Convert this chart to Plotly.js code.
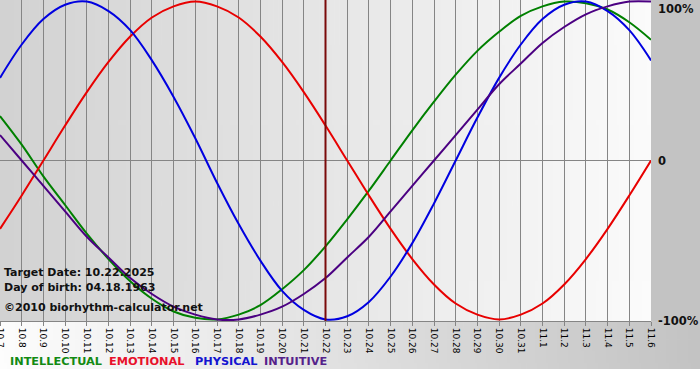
<!DOCTYPE html>
<html>
<head>
<meta charset="utf-8">
<script src="https://cdn.plot.ly/plotly-3.0.1.min.js"></script>
<style>html,body{margin:0;padding:0;background:#fff;}#chart{width:700px;height:380px;}</style>
</head>
<body>
<div id="chart"></div>
<script>
// Days shown on the x axis
const dates = ['10.7','10.8','10.9','10.10','10.11','10.12','10.13','10.14','10.15','10.16',
  '10.17','10.18','10.19','10.20','10.21','10.22','10.23','10.24','10.25','10.26',
  '10.27','10.28','10.29','10.30','10.31','11.1','11.2','11.3','11.4','11.5','11.6'];

// Cycle values (1 = 100%, -1 = -100%)
const intellectual = [0.28,0.10,-0.10,-0.28,-0.46,-0.62,-0.76,-0.87,-0.95,-0.99,
  -1.00,-0.97,-0.91,-0.81,-0.69,-0.54,-0.37,-0.19,0.00,0.19,
  0.37,0.54,0.69,0.81,0.91,0.97,1.00,0.99,0.95,0.87,0.76];
const emotional = [-0.43,-0.22,0.00,0.22,0.43,0.62,0.78,0.90,0.97,1.00,
  0.97,0.90,0.78,0.62,0.43,0.22,0.00,-0.22,-0.43,-0.62,
  -0.78,-0.90,-0.97,-1.00,-0.97,-0.90,-0.78,-0.62,-0.43,-0.22,0.00];
const physical = [0.52,0.73,0.89,0.98,1.00,0.94,0.82,0.63,0.40,0.14,
  -0.14,-0.40,-0.63,-0.82,-0.94,-1.00,-0.98,-0.89,-0.73,-0.52,
  -0.27,0.00,0.27,0.52,0.73,0.89,0.98,1.00,0.94,0.82,0.63];
const intuitive = [0.16,0.00,-0.16,-0.32,-0.48,-0.61,-0.74,-0.84,-0.92,-0.97,
  -1.00,-1.00,-0.97,-0.92,-0.84,-0.74,-0.61,-0.48,-0.32,-0.16,
  0.00,0.16,0.32,0.48,0.61,0.74,0.84,0.92,0.97,1.00,1.00];

const seriesNames = ['INTELLECTUAL','EMOTIONAL','PHYSICAL','INTUITIVE'];
const seriesData = [intellectual, emotional, physical, intuitive];
const lineColors = ['#008000','#e80000','#0000e0','#4b0082'];
const legendColors = ['#138a13','#e8102a','#1414d0','#55228a'];
const legendX = [8, 107, 193, 262];

const targetDate = '10.22';
const infoLines = ['Target Date: 10.22.2025','Day of birth: 04.18.1963','\u00a92010 biorhythm-calculator.net'];
const infoY = [272, 287, 307];

const W = 700, H = 380, ML = 0, MR = 49, MT = 0, MB = 59;
const PW = W - ML - MR, PH = H - MT - MB;

function gradient(c1, c2) {
  const cv = document.createElement('canvas');
  cv.width = 256; cv.height = 4;
  const ctx = cv.getContext('2d');
  const g = ctx.createLinearGradient(0, 0, 256, 0);
  g.addColorStop(0, c1); g.addColorStop(1, c2);
  ctx.fillStyle = g; ctx.fillRect(0, 0, 256, 4);
  return cv.toDataURL();
}
function solid(c) {
  const cv = document.createElement('canvas');
  cv.width = 4; cv.height = 4;
  const ctx = cv.getContext('2d');
  ctx.fillStyle = c; ctx.fillRect(0, 0, 4, 4);
  return cv.toDataURL();
}

const traces = seriesData.map((vals, i) => ({
  type: 'scatter', mode: 'lines', x: dates, y: vals, name: seriesNames[i],
  line: {color: lineColors[i], width: 2, shape: 'spline', smoothing: 1},
  hoverinfo: 'skip'
}));

const annotations = [];
annotations.push({xref:'paper', yref:'y', x:1, y:1, xanchor:'left', yanchor:'top', xshift:5, yshift:2, text:'100%', showarrow:false, font:{family:'DejaVu Sans', size:11.5, color:'#111'}});
annotations.push({xref:'paper', yref:'y', x:1, y:0, xanchor:'left', yanchor:'middle', xshift:5, text:'<b>0</b>', showarrow:false, font:{family:'DejaVu Sans', size:11.5, color:'#111'}});
annotations.push({xref:'paper', yref:'y', x:1, y:-1, xanchor:'left', yanchor:'middle', xshift:5, yshift:-2, text:'-100%', showarrow:false, font:{family:'DejaVu Sans', size:11.5, color:'#111'}});
annotations[0].text = '<b>100%</b>';
annotations[2].text = '<b>-100%</b>';

infoLines.forEach((t, i) => {
  annotations.push({xref:'paper', yref:'paper', x: 2/PW, y: 1 - (infoY[i]-MT)/PH, xanchor:'left', yanchor:'middle',
    text:'<b>'+t+'</b>', showarrow:false, font:{family:'DejaVu Sans', size:11, color:'#111'}});
});
seriesNames.forEach((n, i) => {
  annotations.push({xref:'paper', yref:'paper', x: legendX[i]/PW, y: 1 - (362-MT)/PH, xanchor:'left', yanchor:'middle',
    text:'<b>'+n+'</b>', showarrow:false, font:{family:'DejaVu Sans', size:11.3, color:legendColors[i]}});
});

const images = [
  {source: gradient('#d2d2d2', '#fbfbfb'), xref:'paper', yref:'paper', x:0, y:1, sizex:1, sizey:1, sizing:'stretch', xanchor:'left', yanchor:'top', layer:'below'},
  {source: solid('#c3c3c3'), xref:'paper', yref:'paper', x:1, y:1, sizex:MR/PW, sizey:1, sizing:'stretch', xanchor:'left', yanchor:'top', layer:'below'},
  {source: gradient('#fdfdfd', '#c3c3c3'), xref:'paper', yref:'paper', x:0, y:0, sizex:W/PW, sizey:48/PH, sizing:'stretch', xanchor:'left', yanchor:'top', layer:'below'}
];

const layout = {
  width: W, height: H,
  margin: {l: ML, r: MR, t: MT, b: MB, pad: 0},
  paper_bgcolor: '#ffffff', plot_bgcolor: 'rgba(0,0,0,0)',
  showlegend: false,
  font: {family: 'DejaVu Sans', color: '#000'},
  xaxis: {
    type: 'category', range: [0, dates.length - 1], fixedrange: true,
    showgrid: true, gridcolor: '#858585', gridwidth: 1,
    showline: true, linecolor: '#858585', linewidth: 1,
    ticks: 'outside', ticklen: 4, tickcolor: '#858585', tickwidth: 1,
    tickangle: 90, tickfont: {family: 'DejaVu Sans', size: 9, color: '#000'},
    zeroline: false, automargin: false
  },
  yaxis: {
    range: [-1.01, 1.01], fixedrange: true, showticklabels: false, showgrid: false,
    zeroline: true, zerolinecolor: '#858585', zerolinewidth: 1, ticks: '', automargin: false
  },
  shapes: [{type: 'line', xref: 'x', yref: 'paper', x0: dates.indexOf(targetDate), x1: dates.indexOf(targetDate), y0: 0, y1: 1,
    line: {color: '#7a0a0a', width: 2}, layer: 'above'}],
  annotations: annotations,
  images: images
};

Plotly.newPlot('chart', traces, layout, {displayModeBar: false, staticPlot: true});
</script>
</body>
</html>
